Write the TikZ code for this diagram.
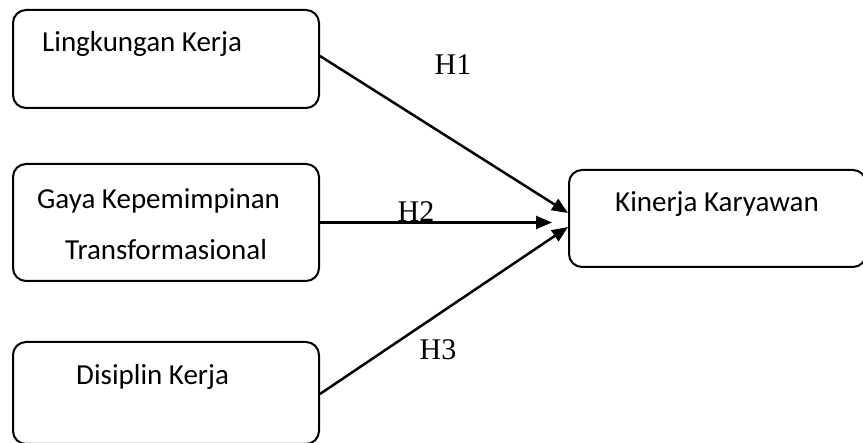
\documentclass[tikz,border=0pt]{standalone}
\usepackage{fontspec}
\setmainfont{Liberation Serif}
\newfontfamily\boxfont{Carlito}
\usetikzlibrary{arrows.meta,positioning}

\tikzset{
  varbox/.style={draw, line width=2pt, rounded corners=13pt, minimum width=306pt, inner sep=0pt},
  boxtext/.style={anchor=base west, inner sep=0pt, font=\boxfont\fontsize{29}{34}\selectfont},
  hyplabel/.style={inner sep=0pt, font=\fontsize{30}{36}\selectfont},
  hyparrow/.style={line width=2.5pt, -{Triangle[length=16pt,width=13pt]}}
}

\begin{document}
\begin{tikzpicture}[x=1pt,y=-1pt]
  \useasboundingbox (0,0) rectangle (863,443);
  \clip (0,0) rectangle (863,443);
  % variable boxes
  \node[varbox, minimum height=98pt] (lingkungan) at (166,59) {};
  \node[varbox, minimum height=117pt] (gaya) at (166,222.5) {};
  \node[varbox, minimum height=102pt] (disiplin) at (166,393) {};
  \node[varbox, minimum width=297pt, minimum height=97pt] (kinerja) at (717.5,218.5) {};
  \node[boxtext] (tLingkungan) at (42,52) {Lingkungan Kerja};
  \node[boxtext] (tGaya) at (37,209) {Gaya Kepemimpinan};
  \node[boxtext] (tTrans) at (65,260) {Transformasional};
  \node[boxtext] (tDisiplin) at (76,385) {Disiplin Kerja};
  \node[boxtext] (tKinerja) at (615,212) {Kinerja Karyawan};
  % hypotheses
  \draw[hyparrow] ([yshift=3pt]lingkungan.east) -- ([yshift=5.5pt]kinerja.west);
  \draw[hyparrow] (gaya.east) -- ([xshift=-16pt]kinerja.west |- gaya.east);
  \draw[hyparrow] ([yshift=-1pt]disiplin.east) -- ([yshift=-8.5pt]kinerja.west);
  \node[hyplabel] (h1) at (453,64.5) {H1};
  \node[hyplabel] (h2) at (416,212) {H2};
  \node[hyplabel] (h3) at (438,349.5) {H3};
\end{tikzpicture}
\end{document}
